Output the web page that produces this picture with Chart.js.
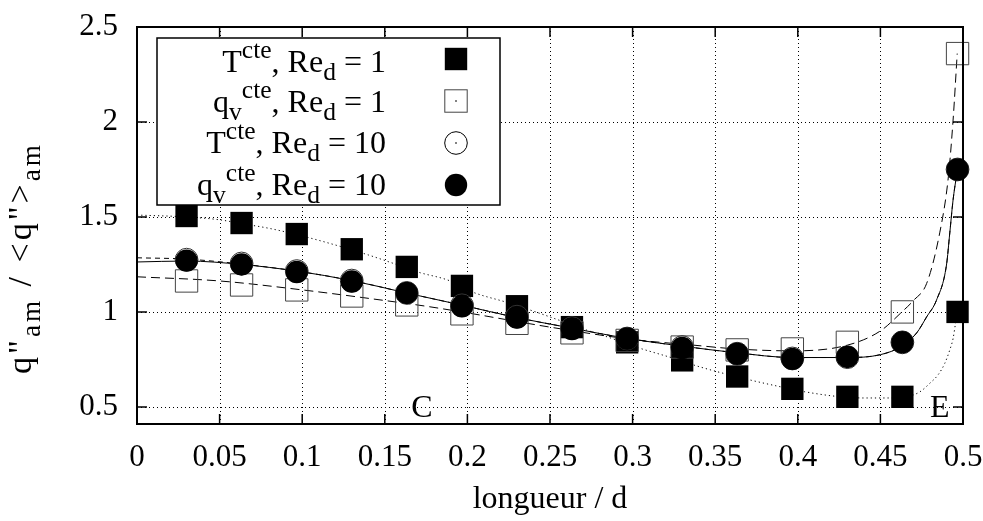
<!DOCTYPE html>
<html>
<head>
<meta charset="utf-8">
<script src="https://cdn.jsdelivr.net/npm/chart.js@4.4.1/dist/chart.umd.min.js"></script>
<style>
html,body{margin:0;padding:0;background:#fff;}
canvas{display:block;}
</style>
</head>
<body>
<canvas id="chart" width="983" height="521"></canvas>
<script>
// ---------- data ----------
const xTickValues = [0, 0.05, 0.1, 0.15, 0.2, 0.25, 0.3, 0.35, 0.4, 0.45, 0.5];
const xTickLabels = ['0', '0.05', '0.1', '0.15', '0.2', '0.25', '0.3', '0.35', '0.4', '0.45', '0.5'];
const yTickValues = [0.5, 1, 1.5, 2, 2.5];
const yTickLabels = ['0.5', '1', '1.5', '2', '2.5'];

const positions = [0.03, 0.0633, 0.0967, 0.13, 0.1633, 0.1967, 0.23, 0.2633, 0.2967, 0.33, 0.3633, 0.3967, 0.43, 0.4633, 0.4967];
const tcteRe1   = [1.505, 1.468, 1.41, 1.33, 1.237, 1.137, 1.03, 0.92, 0.84, 0.745, 0.66, 0.595, 0.553, 0.553, 1.0];
const qvcteRe1  = [1.163, 1.142, 1.116, 1.084, 1.037, 0.99, 0.94, 0.89, 0.85, 0.815, 0.80, 0.805, 0.84, 1.0, 2.36];
const tcteRe10  = [1.275, 1.255, 1.215, 1.165, 1.10, 1.035, 0.975, 0.915, 0.86, 0.815, 0.78, 0.755, 0.762, 0.84, 1.75];
const qvcteRe10 = [1.27, 1.25, 1.21, 1.16, 1.10, 1.03, 0.97, 0.91, 0.86, 0.81, 0.78, 0.753, 0.763, 0.84, 1.75];

// fitted curves
const fitTRe1X = [0, 0.03, 0.05, 0.0633, 0.08, 0.1, 0.123, 0.14, 0.157, 0.17, 0.189, 0.203, 0.224, 0.238, 0.256, 0.272, 0.29, 0.304, 0.322, 0.341, 0.371, 0.39, 0.404, 0.424, 0.44, 0.457, 0.467, 0.474, 0.48, 0.485, 0.489, 0.492, 0.494, 0.4955, 0.497];
const fitTRe1Y = [1.51, 1.50, 1.485, 1.465, 1.44, 1.40, 1.345, 1.30, 1.25, 1.21, 1.165, 1.105, 1.05, 1.01, 0.955, 0.905, 0.853, 0.81, 0.763, 0.71, 0.642, 0.605, 0.58, 0.555, 0.547, 0.547, 0.555, 0.58, 0.625, 0.67, 0.73, 0.8, 0.86, 0.94, 1.0];

const fitQRe1X = [0, 0.05, 0.1, 0.15, 0.175, 0.2, 0.25, 0.3, 0.337, 0.363, 0.397, 0.43, 0.45, 0.463, 0.47, 0.478, 0.486, 0.491, 0.494, 0.4965];
const fitQRe1Y = [1.185, 1.163, 1.116, 1.06, 1.03, 0.995, 0.92, 0.855, 0.825, 0.805, 0.795, 0.825, 0.9, 1.0, 1.06, 1.15, 1.42, 1.70, 2.01, 2.36];

const fitTRe10X = [0, 0.03, 0.0633, 0.0967, 0.13, 0.163, 0.197, 0.23, 0.263, 0.297, 0.33, 0.363, 0.397, 0.43, 0.45, 0.463, 0.472, 0.478, 0.484, 0.49, 0.492, 0.494, 0.496, 0.497];
const fitTRe10Y = [1.285, 1.278, 1.252, 1.215, 1.165, 1.10, 1.035, 0.97, 0.915, 0.86, 0.82, 0.785, 0.76, 0.76, 0.775, 0.82, 0.89, 0.974, 1.063, 1.247, 1.416, 1.59, 1.71, 1.75];

const fitQRe10X = [0, 0.03, 0.0633, 0.0967, 0.13, 0.163, 0.197, 0.23, 0.263, 0.297, 0.33, 0.363, 0.397, 0.43, 0.45, 0.463, 0.472, 0.478, 0.484, 0.49, 0.492, 0.494, 0.496, 0.497];
const fitQRe10Y = [1.263, 1.268, 1.25, 1.215, 1.165, 1.10, 1.035, 0.97, 0.915, 0.86, 0.82, 0.785, 0.76, 0.76, 0.775, 0.82, 0.89, 0.974, 1.063, 1.247, 1.416, 1.59, 1.71, 1.75];

const seriesNames = ['T cte, Re d = 1', 'q v cte, Re d = 1', 'T cte, Re d = 10', 'q v cte, Re d = 10'];
const legendRich = [
  [{t:'T'}, {t:'cte', sup:true}, {t:', Re'}, {t:'d', sub:true}, {t:' = 1'}],
  [{t:'q'}, {t:'v', sub:true}, {t:'cte', sup:true}, {t:', Re'}, {t:'d', sub:true}, {t:' = 1'}],
  [{t:'T'}, {t:'cte', sup:true}, {t:', Re'}, {t:'d', sub:true}, {t:' = 10'}],
  [{t:'q'}, {t:'v', sub:true}, {t:'cte', sup:true}, {t:', Re'}, {t:'d', sub:true}, {t:' = 10'}]
];
const yTitleRich = [{t:'q"'}, {t:'am', sub:true}, {t:' / <q">'}, {t:'am', sub:true}];
const xTitle = 'longueur / d';
const annotations = [{text:'C', x:0.1725, y:0.5}, {text:'E', x:0.486, y:0.5}];

// ---------- helpers ----------
const FONT = "'Liberation Serif', 'Times New Roman', Times, serif";
const toXY = (xs, ys) => xs.map((v, i) => ({x: v, y: ys[i]}));

function richWidth(ctx, parts, size) {
  let w = 0;
  for (const p of parts) {
    const s = (p.sup || p.sub) ? size * 0.8 : size;
    ctx.font = s + 'px ' + FONT;
    w += ctx.measureText(p.t).width;
  }
  return w;
}
function drawRich(ctx, parts, x, y, size, align) {
  const w = richWidth(ctx, parts, size);
  let cx = align === 'right' ? x - w : (align === 'center' ? x - w / 2 : x);
  ctx.textBaseline = 'alphabetic';
  ctx.textAlign = 'left';
  for (const p of parts) {
    const s = (p.sup || p.sub) ? size * 0.8 : size;
    ctx.font = s + 'px ' + FONT;
    const dy = p.sup ? -size * 0.44 : (p.sub ? size * 0.25 : 0);
    ctx.fillText(p.t, cx, y + dy);
    cx += ctx.measureText(p.t).width;
  }
}

// ---------- plugin: gnuplot style frame, grid, key, labels ----------
const gnuplotLook = {
  id: 'gnuplotLook',
  beforeDatasetsDraw(chart) {
    const {ctx, chartArea: a, scales: {x, y}} = chart;
    ctx.save();
    ctx.strokeStyle = '#000';
    ctx.lineWidth = 1;
    ctx.setLineDash([1, 3]);
    xTickValues.forEach(v => {
      const px = Math.round(x.getPixelForValue(v)) + 0.5;
      ctx.beginPath(); ctx.moveTo(px, a.top); ctx.lineTo(px, a.bottom); ctx.stroke();
    });
    yTickValues.forEach(v => {
      const py = Math.round(y.getPixelForValue(v)) + 0.5;
      ctx.beginPath(); ctx.moveTo(a.left, py); ctx.lineTo(a.right, py); ctx.stroke();
    });
    ctx.restore();
  },
  afterDatasetsDraw(chart) {
    const {ctx, chartArea: a, scales: {x, y}} = chart;
    ctx.save();
    ctx.setLineDash([]);
    ctx.strokeStyle = '#000';
    // inward tick marks
    ctx.lineWidth = 1.5;
    const tl = 10;
    xTickValues.forEach(v => {
      const px = x.getPixelForValue(v);
      ctx.beginPath();
      ctx.moveTo(px, a.bottom); ctx.lineTo(px, a.bottom - tl);
      ctx.moveTo(px, a.top); ctx.lineTo(px, a.top + tl);
      ctx.stroke();
    });
    yTickValues.forEach(v => {
      const py = y.getPixelForValue(v);
      ctx.beginPath();
      ctx.moveTo(a.left, py); ctx.lineTo(a.left + tl, py);
      ctx.moveTo(a.right, py); ctx.lineTo(a.right - tl, py);
      ctx.stroke();
    });
    // frame
    ctx.lineWidth = 2;
    ctx.strokeRect(a.left, a.top, a.right - a.left, a.bottom - a.top);

    // annotation labels
    ctx.fillStyle = '#000';
    ctx.font = '32px ' + FONT;
    ctx.textAlign = 'center';
    ctx.textBaseline = 'alphabetic';
    annotations.forEach(an => {
      ctx.fillText(an.text, x.getPixelForValue(an.x), y.getPixelForValue(an.y) + 10);
    });

    // key (legend) box
    const box = {l: 157, t: 38, r: 500, b: 205};
    ctx.fillStyle = '#fff';
    ctx.fillRect(box.l, box.t, box.r - box.l, box.b - box.t);
    ctx.lineWidth = 1.5;
    ctx.strokeStyle = '#000';
    ctx.strokeRect(box.l, box.t, box.r - box.l, box.b - box.t);
    const baselines = [72, 112, 153, 195];
    const markY = [59, 101, 143, 185];
    const markX = 456;
    ctx.fillStyle = '#000';
    legendRich.forEach((parts, i) => {
      drawRich(ctx, parts, 386, baselines[i], 32, 'right');
    });
    const half = 11.2;
    ctx.fillRect(markX - half, markY[0] - half, 2 * half, 2 * half);
    ctx.lineWidth = 1;
    ctx.strokeStyle = '#444';
    ctx.strokeRect(markX - half, markY[1] - half, 2 * half, 2 * half);
    ctx.fillRect(markX - 0.7, markY[1] - 0.7, 1.4, 1.4);
    ctx.strokeStyle = '#000';
    ctx.beginPath(); ctx.arc(markX, markY[2], 11.3, 0, Math.PI * 2); ctx.stroke();
    ctx.fillRect(markX - 0.7, markY[2] - 0.7, 1.4, 1.4);
    ctx.beginPath(); ctx.arc(markX, markY[3], 11.2, 0, Math.PI * 2); ctx.fill();

    // axis titles
    ctx.fillStyle = '#000';
    ctx.font = '32px ' + FONT;
    ctx.textAlign = 'center';
    ctx.textBaseline = 'alphabetic';
    ctx.fillText(xTitle, (a.left + a.right) / 2, 508);

    ctx.save();
    ctx.translate(31, 258);
    ctx.rotate(-Math.PI / 2);
    if ('letterSpacing' in ctx) ctx.letterSpacing = '3px';
    drawRich(ctx, yTitleRich, 0, 0, 34, 'center');
    ctx.restore();

    ctx.restore();
  }
};

const zeroPad = s => { s.paddingTop = 0; s.paddingBottom = 0; s.paddingLeft = 0; s.paddingRight = 0; };

// ---------- chart ----------
const pointData = (ys) => toXY(positions, ys);

new Chart(document.getElementById('chart'), {
  type: 'scatter',
  data: {
    datasets: [
      {label: seriesNames[3], data: pointData(qvcteRe10), pointStyle: 'circle', pointRadius: 11.2,
       backgroundColor: '#000', borderColor: '#000', borderWidth: 0, order: 1, clip: false},
      {label: seriesNames[2], data: pointData(tcteRe10), pointStyle: 'circle', pointRadius: 11.4,
       backgroundColor: 'rgba(0,0,0,0)', borderColor: '#333', borderWidth: 1, order: 2, clip: false},
      {label: seriesNames[1], data: pointData(qvcteRe1), pointStyle: 'rect', pointRadius: 15.8,
       backgroundColor: 'rgba(0,0,0,0)', borderColor: '#444', borderWidth: 1, order: 3, clip: false},
      {label: seriesNames[0], data: pointData(tcteRe1), pointStyle: 'rect', pointRadius: 15.8,
       backgroundColor: '#000', borderColor: '#000', borderWidth: 0, order: 4, clip: false},
      {label: 'fit ' + seriesNames[0], data: toXY(fitTRe1X, fitTRe1Y), showLine: true, pointRadius: 0,
       borderColor: '#000', borderWidth: 1, borderDash: [1.2, 3], cubicInterpolationMode: 'monotone', order: 10, clip: false},
      {label: 'fit ' + seriesNames[1], data: toXY(fitQRe1X, fitQRe1Y), showLine: true, pointRadius: 0,
       borderColor: '#000', borderWidth: 1, borderDash: [9, 5], cubicInterpolationMode: 'monotone', order: 10, clip: false},
      {label: 'fit ' + seriesNames[2], data: toXY(fitTRe10X, fitTRe10Y), showLine: true, pointRadius: 0,
       borderColor: '#000', borderWidth: 1, borderDash: [5, 4], cubicInterpolationMode: 'monotone', order: 10, clip: false},
      {label: 'fit ' + seriesNames[3], data: toXY(fitQRe10X, fitQRe10Y), showLine: true, pointRadius: 0,
       borderColor: '#000', borderWidth: 1, cubicInterpolationMode: 'monotone', order: 10, clip: false}
    ]
  },
  options: {
    responsive: false,
    animation: false,
    devicePixelRatio: 1,
    events: [],
    layout: {autoPadding: false, padding: {left: 0, right: 20, top: 27, bottom: 0}},
    plugins: {legend: {display: false}, tooltip: {enabled: false}},
    scales: {
      x: {
        type: 'linear', min: 0, max: 0.5,
        afterBuildTicks: s => { s.ticks = xTickValues.map(v => ({value: v})); },
        afterFit: s => { s.height = 97; zeroPad(s); },
        grid: {display: false, drawTicks: false},
        border: {display: false},
        ticks: {
          padding: 15, color: '#000', maxRotation: 0, autoSkip: false,
          font: {family: FONT, size: 31},
          callback: (v, i) => xTickLabels[i]
        }
      },
      y: {
        type: 'linear', min: 0.41, max: 2.5,
        afterBuildTicks: s => { s.ticks = yTickValues.map(v => ({value: v})); },
        afterFit: s => { s.width = 137; zeroPad(s); },
        grid: {display: false, drawTicks: false},
        border: {display: false},
        ticks: {
          padding: 19, color: '#000', autoSkip: false,
          font: {family: FONT, size: 31},
          callback: (v, i) => yTickLabels[i]
        }
      }
    }
  },
  plugins: [gnuplotLook]
});
</script>
</body>
</html>
